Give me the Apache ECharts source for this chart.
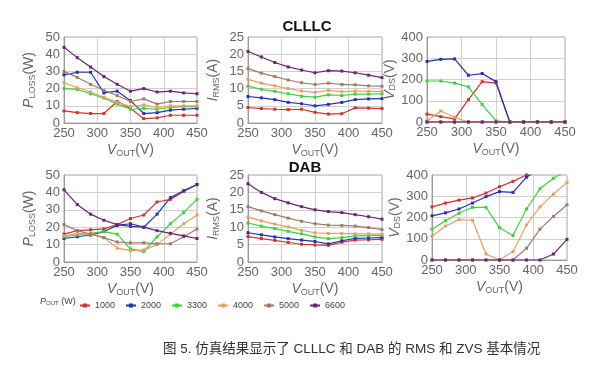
<!DOCTYPE html>
<html><head><meta charset="utf-8">
<script src="https://cdn.jsdelivr.net/npm/echarts@6/dist/echarts.min.js"></script>
<style>html,body{margin:0;padding:0;background:#fff}#c{width:601px;height:368px}</style>
</head><body><div id="c"></div>
<script>
const vout = [250,270,290,310,330,350,370,390,410,430,450];
const seriesNames = ['1000','2000','3300','4000','5000','6600'];
const colors = ['#d3322e','#2532b4','#3fd03f','#e8a060','#a07b6a','#6c2470'];

// CLLLC P_LOSS (W)
const clllcLoss = {
  '1000':[7,6,5.5,5.5,12.5,8.5,2.5,3,4.5,4.5,4.5],
  '2000':[28,29.5,29.5,17.5,18.5,13,5.5,6,7.5,8,8.5],
  '3300':[20,19.5,17,14.5,11,8,8.5,8,9,9.5,9.5],
  '4000':[23.5,20.5,18,15,12,9.5,10.5,9,10,10,10],
  '5000':[30,26.5,22.5,19,16,12.5,14,11,12.5,12.5,12.5],
  '6600':[44,38,32.5,27,22.5,18.5,20,18,18.5,17.5,17]
};
// CLLLC I_RMS (A)
const clllcRms = {
  '1000':[4.5,4.2,4.0,3.9,4.0,3.1,2.6,2.7,4.4,4.3,4.2],
  '2000':[7.7,7.3,6.8,6.0,5.6,5.0,5.4,6.0,6.8,7.0,7.1],
  '3300':[10.7,9.8,9.2,8.5,7.8,7.5,8.2,8.0,8.4,8.4,8.5],
  '4000':[12.7,11.6,10.8,10.0,9.3,8.9,9.5,9.1,9.3,9.2,9.2],
  '5000':[15.8,14.5,13.5,12.5,11.7,11.2,11.6,11.2,11.1,10.8,10.7],
  '6600':[20.8,19.2,17.6,16.3,15.4,14.6,15.2,15.1,14.6,13.9,13.2]
};
// CLLLC V_DS (V)
const clllcVds = {
  '1000':[37,25,15,105,190,183,0,0,0,0,0],
  '2000':[285,295,297,220,228,190,0,0,0,0,0],
  '3300':[193,193,183,165,82,5,0,0,0,0,0],
  '4000':[5,52,22,0,0,0,0,0,0,0,0],
  '5000':[0,0,0,0,0,0,0,0,0,0,0],
  '6600':[0,0,0,0,0,0,0,0,0,0,0]
};
// DAB P_LOSS (W)
const dabLoss = {
  '1000':[16,18,18.5,19,21.5,25,27,34.5,36,40.5,44.5],
  '2000':[13.5,14.5,15.5,17.5,21,22,20,27.5,37,41,44.5],
  '3300':[14.5,15.5,16.5,17.5,16,7.5,6,14.5,22,28.5,36],
  '4000':[15,16.5,16,14,8,6.5,7,10,16,22,27],
  '5000':[21.5,18,16,14,11.5,11,11,10.5,10.5,14.5,19],
  '6600':[41.5,33,27.5,24,21.5,20.5,20,18,16.5,15,13.5]
};
// DAB I_RMS (A)
const dabRms = {
  '1000':[7.3,6.7,6.2,5.6,5.1,4.9,4.8,5.7,6.3,6.4,6.5],
  '2000':[8.4,7.8,7.2,6.7,6.3,5.9,5.2,6.1,6.8,6.9,7.0],
  '3300':[11.2,10.3,9.6,8.8,8.1,7.2,6.7,7.0,7.5,7.6,7.7],
  '4000':[12.9,11.8,10.9,10.1,9.1,8.4,8.2,8.2,8.1,8.1,8.0],
  '5000':[15.9,14.7,13.6,12.6,11.7,11.0,10.6,10.5,10.3,9.9,9.3],
  '6600':[22.5,20.0,18.2,17.0,15.9,15.0,14.5,14.2,13.6,13.0,12.3]
};
// DAB V_DS (V)
const dabVds = {
  '1000':[250,268,282,292,315,345,370,400,430,460,490],
  '2000':[208,222,240,268,298,322,318,390,430,460,490],
  '3300':[145,185,220,248,248,152,115,240,335,385,420],
  '4000':[112,160,190,187,28,0,40,165,250,310,365],
  '5000':[0,0,0,0,0,0,0,55,145,205,260],
  '6600':[0,0,0,0,0,0,0,0,0,28,97]
};

const panels = [
  {d:clllcLoss, max:50, iv:10, yname:'{i|P}{s|LOSS}{n|(W)}', g:{left:64,top:37,width:133,height:86}},
  {d:clllcRms, max:25, iv:5, yname:'{i|I}{s|RMS}{n|(A)}', g:{left:248,top:37,width:134,height:86}},
  {d:clllcVds, max:400, iv:100, yname:'{i|V}{s|DS}{n|(V)}', g:{left:427,top:37,width:138,height:85}},
  {d:dabLoss, max:50, iv:10, yname:'{i|P}{s|LOSS}{n|(W)}', g:{left:64,top:175,width:133,height:87}},
  {d:dabRms, max:25, iv:5, yname:'{i|I}{s|RMS}{n|(A)}', g:{left:248,top:175,width:134,height:87}},
  {d:dabVds, max:400, iv:100, yname:'{i|V}{s|DS}{n|(V)}', g:{left:432,top:175,width:135,height:85}}
];

const FONT = 'Liberation Sans, Arial, sans-serif';
const rich = {
  i:{fontStyle:'italic',fontSize:14,color:'#666',fontFamily:FONT},
  s:{fontSize:9,color:'#666',verticalAlign:'bottom',fontFamily:FONT,padding:[6,0,0,0]},
  n:{fontSize:14,color:'#666',fontFamily:FONT}
};

const grid=[], xAxis=[], yAxis=[], series=[];
panels.forEach((p,k)=>{
  grid.push(Object.assign({show:true,borderColor:'#aaa',borderWidth:1,backgroundColor:'transparent'},p.g));
  xAxis.push({type:'value',gridIndex:k,min:250,max:450,interval:50,
    name:'{i|V}{s|OUT}{n|(V)}',nameLocation:'middle',nameGap:20,
    nameTextStyle:{rich:rich},
    axisLine:{show:true,lineStyle:{color:'#999'}},axisTick:{show:false},
    axisLabel:{fontSize:13,color:'#666',fontFamily:FONT,margin:4},
    splitLine:{show:true,lineStyle:{color:'#d0d0d0'}}});
  yAxis.push({type:'value',gridIndex:k,min:0,max:p.max,interval:p.iv,
    name:p.yname,nameLocation:'middle',nameGap:27,nameRotate:90,
    nameTextStyle:{rich:rich},
    axisLine:{show:true,lineStyle:{color:'#999'}},axisTick:{show:false},
    axisLabel:{fontSize:13,color:'#666',fontFamily:FONT,margin:4},
    splitLine:{show:true,lineStyle:{color:'#d0d0d0'}}});
  seriesNames.forEach((nm,j)=>{
    series.push({type:'line',name:nm,xAxisIndex:k,yAxisIndex:k,
      data:vout.map((x,i)=>[x,p.d[nm][i]]),
      symbol:'rect',symbolSize:3,clip:true,
      lineStyle:{width:1.2,color:colors[j]},itemStyle:{color:colors[j]},
      emphasis:{disabled:true},animation:false});
  });
});

const chart = echarts.init(document.getElementById('c'),null,{renderer:'canvas'});
chart.setOption({
  animation:false,
  color:colors,
  title:[
    {text:'CLLLC',left:302,top:14,textAlign:'center',textStyle:{fontSize:15,fontWeight:'bold',color:'#111',fontFamily:FONT}},
    {text:'DAB',left:300,top:155,textAlign:'center',textStyle:{fontSize:15,fontWeight:'bold',color:'#111',fontFamily:FONT}}
  ],
  legend:{data:seriesNames,left:74,top:296,itemWidth:10,itemHeight:5,itemGap:10,
    textStyle:{fontSize:9,color:'#444',fontFamily:FONT}},
  grid:grid, xAxis:xAxis, yAxis:yAxis, series:series,
  graphic:[
    {type:'text',left:40,top:297,style:{rich:{
      a:{fontStyle:'italic',fontSize:9,fill:'#444',fontFamily:FONT},
      b:{fontSize:6,fill:'#444',fontFamily:FONT,verticalAlign:'bottom'},
      c:{fontSize:9,fill:'#444',fontFamily:FONT}},text:'{a|P}{b|OUT}{c| (W)}'}},
    {type:'text',left:163,top:343,style:{text:'图 5. 仿真结果显示了 CLLLC 和 DAB 的 RMS 和 ZVS 基本情况',
      fontSize:13.5,fill:'#333',fontFamily:'Liberation Sans, Noto Sans CJK SC, sans-serif'}}
  ]
});
</script></body></html>
